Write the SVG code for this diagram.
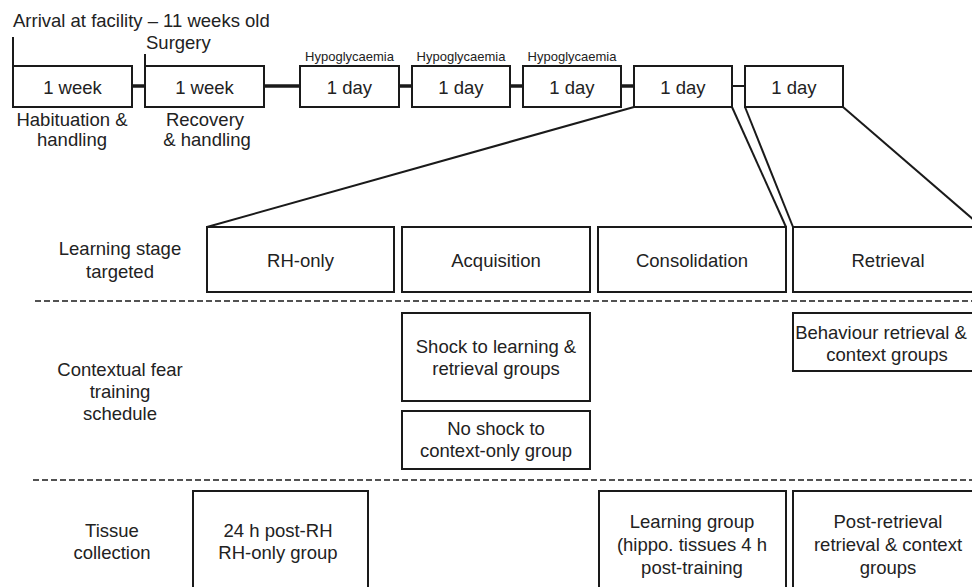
<svg xmlns="http://www.w3.org/2000/svg" width="972" height="587" viewBox="0 0 972 587">
<style>
text{font-family:"Liberation Sans",Arial,sans-serif;fill:#222;font-size:18.5px;}
.c{text-anchor:middle;}
.s{font-size:13px;}
.box{fill:#fff;stroke:#1a1a1a;stroke-width:2;}
.ln{stroke:#1a1a1a;fill:none;stroke-width:2;}
.thick{stroke:#1a1a1a;stroke-width:3.5;fill:none;}
.dash{stroke:#1a1a1a;stroke-width:1.6;stroke-dasharray:6,3;fill:none;}
</style>
<rect width="972" height="587" fill="#fff"/>
<g id="connectors">
<line class="ln" x1="13" y1="37" x2="13" y2="66" stroke-width="2.5"/>
<line class="ln" x1="145" y1="54" x2="145" y2="66" stroke-width="1.5"/>
<line class="thick" x1="132" y1="86" x2="145" y2="86"/>
<line class="thick" x1="264" y1="86" x2="300" y2="86"/>
<line class="thick" x1="399" y1="86" x2="412" y2="86"/>
<line class="thick" x1="510" y1="86" x2="523" y2="86"/>
<line class="thick" x1="621" y1="86" x2="634" y2="86"/>
<line class="ln" x1="732" y1="86" x2="745" y2="86" stroke-width="1.5"/>
<line class="ln" x1="634" y1="107" x2="207" y2="227"/>
<line class="ln" x1="732" y1="107" x2="786" y2="227"/>
<line class="ln" x1="745" y1="107" x2="793" y2="227"/>
<line class="ln" x1="843" y1="107" x2="982" y2="227"/>
<line class="dash" x1="35" y1="301" x2="972" y2="301"/>
<line class="dash" x1="33" y1="480" x2="972" y2="480"/>
</g>
<g id="label-arrival"><text x="13" y="27">Arrival at facility – 11 weeks old</text></g>
<g id="label-surgery"><text x="146" y="49">Surgery</text></g>
<g id="week1"><rect class="box" x="13" y="66" width="119" height="41"/><text class="c" x="72.5" y="94">1 week</text></g>
<g id="label-habituation"><text class="c" x="72" y="126">Habituation &amp;</text><text class="c" x="72" y="146">handling</text></g>
<g id="week2"><rect class="box" x="145" y="66" width="119" height="41"/><text class="c" x="204.5" y="94">1 week</text></g>
<g id="label-recovery"><text class="c" x="205" y="126">Recovery</text><text class="c" x="207" y="146">&amp; handling</text></g>
<g id="day1"><text class="c s" x="349.5" y="61">Hypoglycaemia</text><rect class="box" x="300" y="66" width="99" height="41"/><text class="c" x="349.5" y="94">1 day</text></g>
<g id="day2"><text class="c s" x="461" y="61">Hypoglycaemia</text><rect class="box" x="412" y="66" width="98" height="41"/><text class="c" x="461" y="94">1 day</text></g>
<g id="day3"><text class="c s" x="572" y="61">Hypoglycaemia</text><rect class="box" x="523" y="66" width="98" height="41"/><text class="c" x="572" y="94">1 day</text></g>
<g id="day4"><rect class="box" x="634" y="66" width="98" height="41"/><text class="c" x="683" y="94">1 day</text></g>
<g id="day5"><rect class="box" x="745" y="66" width="98" height="41"/><text class="c" x="794" y="94">1 day</text></g>
<g id="row-learning"><text class="c" x="120" y="255">Learning stage</text><text class="c" x="120" y="278">targeted</text></g>
<g id="rh-only"><rect class="box" x="207" y="227" width="187" height="65"/><text class="c" x="300.5" y="267">RH-only</text></g>
<g id="acquisition"><rect class="box" x="402" y="227" width="188" height="65"/><text class="c" x="496" y="267">Acquisition</text></g>
<g id="consolidation"><rect class="box" x="598" y="227" width="188" height="65"/><text class="c" x="692" y="267">Consolidation</text></g>
<g id="retrieval"><rect class="box" x="793" y="227" width="189" height="65"/><text class="c" x="888" y="267">Retrieval</text></g>
<g id="row-schedule"><text class="c" x="120" y="376">Contextual fear</text><text class="c" x="120" y="398">training</text><text class="c" x="120" y="420">schedule</text></g>
<g id="shock"><rect class="box" x="402" y="313" width="188" height="88"/><text class="c" x="496" y="353">Shock to learning &amp;</text><text class="c" x="496" y="375">retrieval groups</text></g>
<g id="no-shock"><rect class="box" x="402" y="411" width="188" height="58"/><text class="c" x="496" y="435">No shock to</text><text class="c" x="496" y="457">context-only group</text></g>
<g id="behaviour"><rect class="box" x="793" y="313" width="189" height="58"/><text class="c" x="881" y="339">Behaviour retrieval &amp;</text><text class="c" x="887" y="361">context groups</text></g>
<g id="row-tissue"><text class="c" x="112" y="537">Tissue</text><text class="c" x="112" y="559">collection</text></g>
<g id="post-rh"><rect class="box" x="193" y="491" width="175" height="110"/><text class="c" x="278" y="537">24 h post-RH</text><text class="c" x="278" y="559">RH-only group</text></g>
<g id="learning-group"><rect class="box" x="599" y="491" width="187" height="110"/><text class="c" x="692" y="528">Learning group</text><text class="c" x="692" y="551">(hippo. tissues 4 h</text><text class="c" x="692" y="574">post-training</text></g>
<g id="post-retrieval"><rect class="box" x="793" y="491" width="189" height="110"/><text class="c" x="888" y="528">Post-retrieval</text><text class="c" x="888" y="551">retrieval &amp; context</text><text class="c" x="888" y="574">groups</text></g>
</svg>
